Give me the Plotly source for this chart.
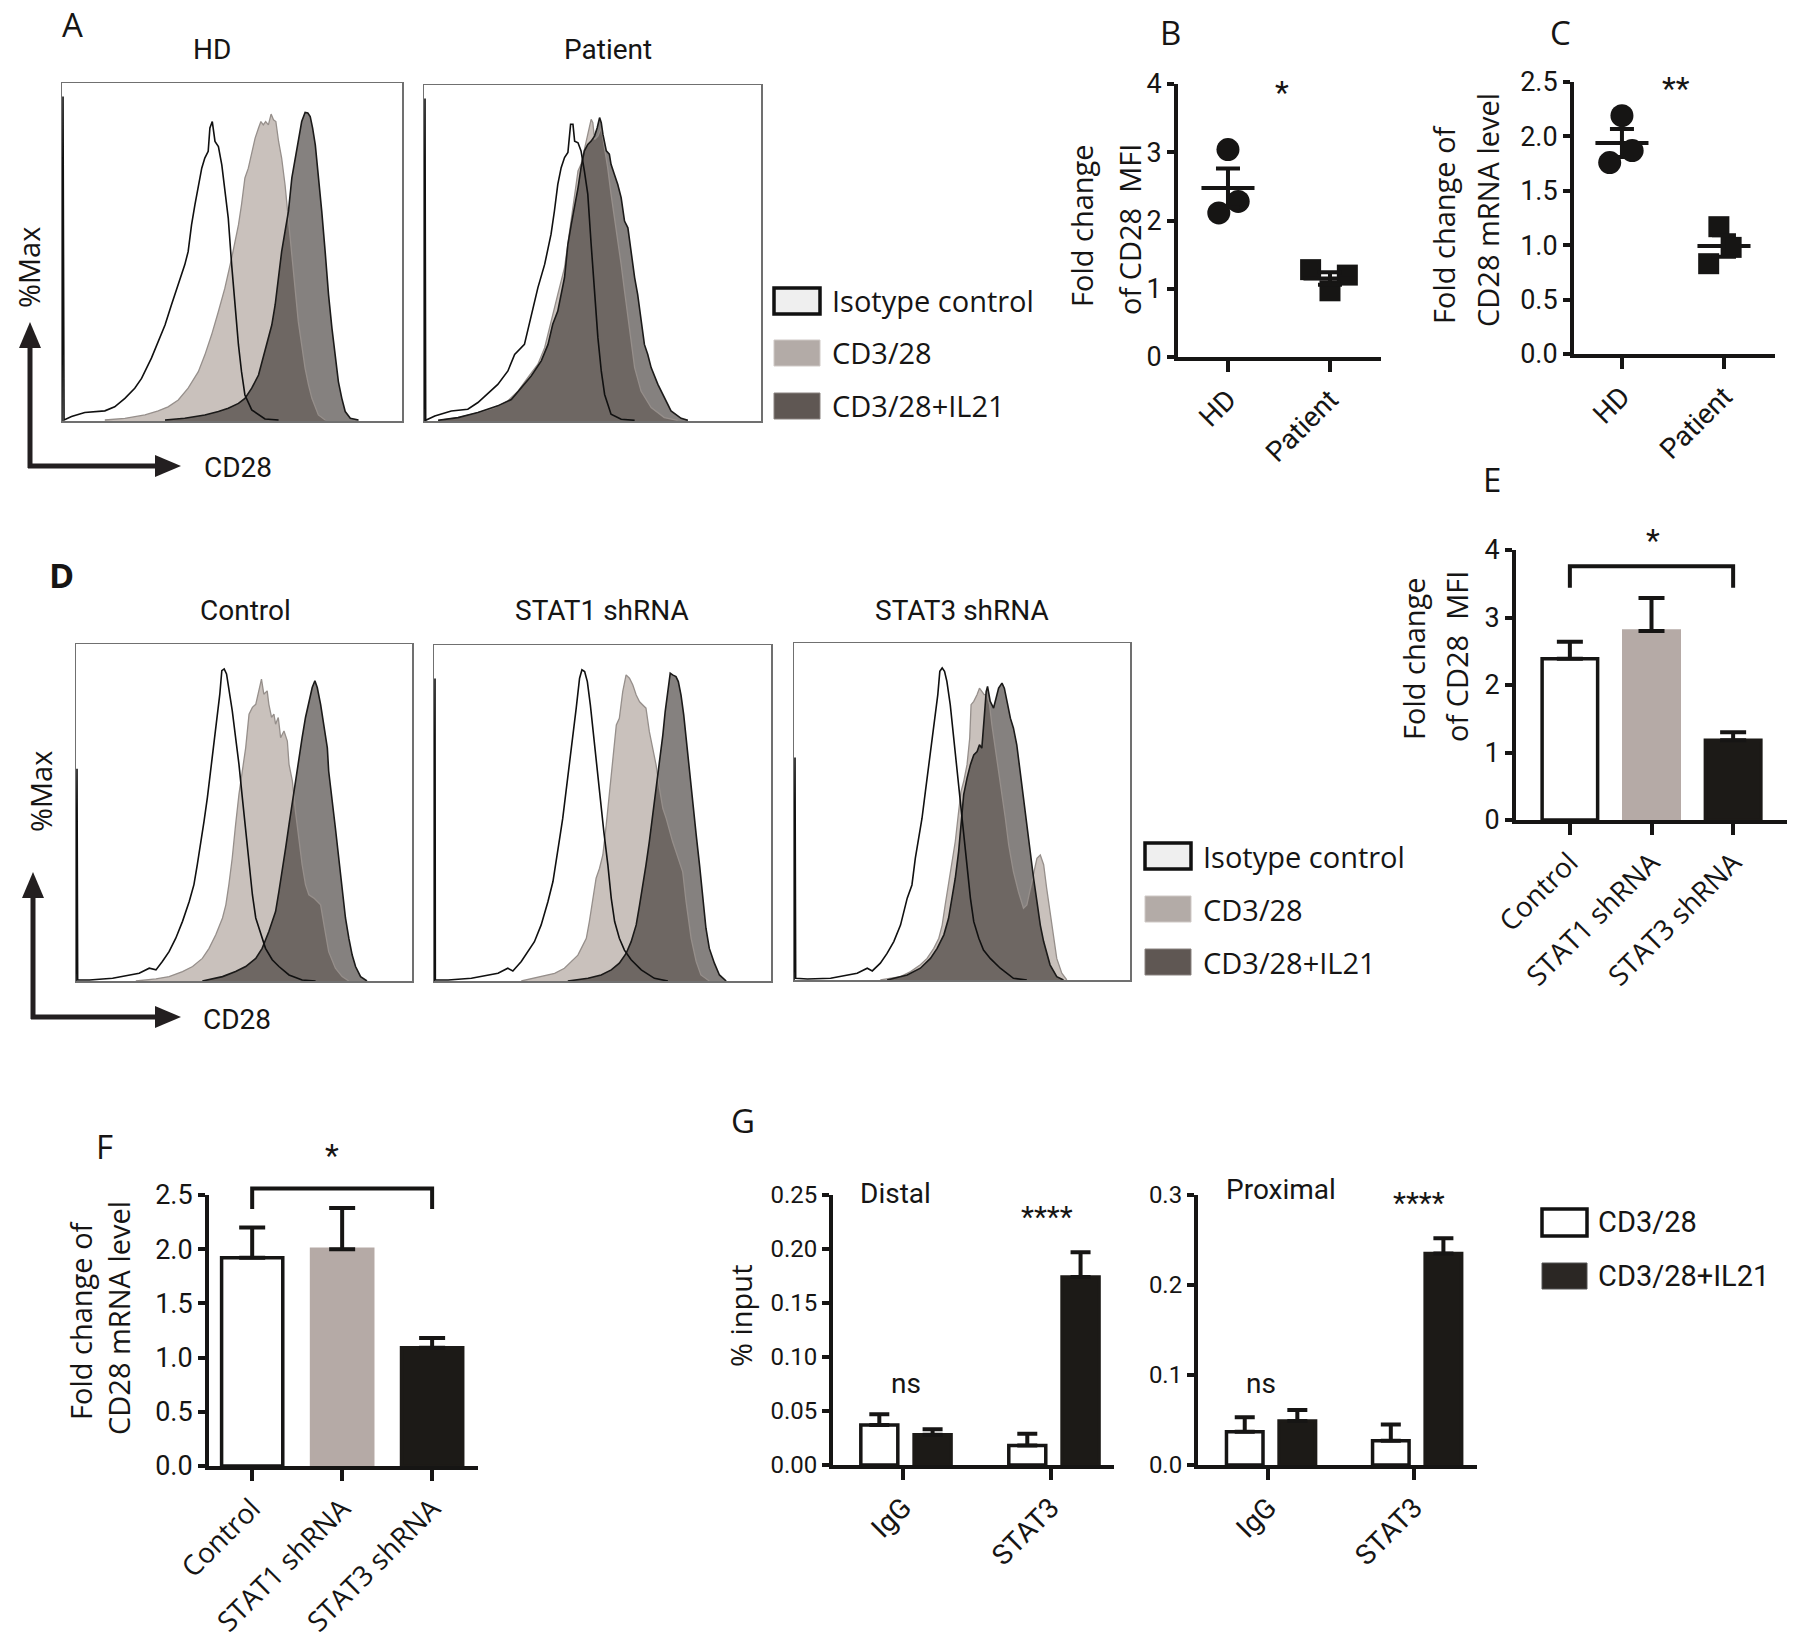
import math
import plotly.graph_objects as go

# ------------------------------------------------------------------ data
# Flow-cytometry overlays: (CD28 position % of frame width, %Max)
HD_ISO = [(0,0),(0.3,96),(0.6,0.3),(2.8,1.3),(6.7,2.5),(12.6,3.0),(15.5,4.2),(18.5,6.7),(21.4,9.7),(23.4,12.6),(26.3,18.6),(28.3,23.5),(30.3,28.4),(32.2,34.4),(34.2,40.3),(36.1,46.2),(37.1,50.1),(38.1,58.0),(39.1,64.0),(40.1,68.9),(41.1,74.8),(42.0,77.8),(43.0,79.8),(43.5,86.7),(44.2,88.6),(45.0,82.7),(46.0,81.2),(47.0,75.8),(47.9,68.9),(48.9,60.0),(49.9,46.2),(50.9,34.4),(51.9,22.5),(52.8,14.6),(53.8,7.7),(55.8,3.3),(59.7,0.6),(63.7,0.3)]
HD_CD328 = [(12.6,0.3),(18.5,0.8),(24.4,1.8),(28.3,3.0),(31.2,4.2),(34.2,6.2),(37.1,9.7),(40.1,14.6),(42.0,19.5),(44.0,25.5),(46.0,32.4),(47.9,39.3),(49.9,48.2),(51.9,58.0),(52.8,64.0),(53.8,71.9),(54.8,74.8),(55.8,78.8),(56.3,80.8),(56.8,83.7),(57.8,86.7),(58.5,88.6),(59.2,87.6),(59.9,88.6),(60.7,87.6),(61.5,90.8),(62.2,89.1),(62.9,88.6),(63.7,82.7),(64.6,77.8),(65.6,69.9),(66.6,60.0),(67.6,48.2),(68.6,38.3),(69.5,29.4),(70.5,22.5),(71.5,15.6),(72.5,10.7),(73.5,6.7),(75.4,1.8),(77.4,0.3)]
HD_IL21 = [(30.3,0.3),(36.1,0.8),(42.0,1.8),(46.0,2.8),(48.9,3.8),(51.9,5.2),(53.8,6.7),(55.8,9.7),(57.8,13.6),(59.7,20.5),(61.7,28.4),(62.7,34.4),(63.7,42.3),(64.6,50.1),(65.6,56.1),(66.6,62.0),(67.6,71.9),(68.6,77.8),(69.5,83.7),(70.5,88.6),(71.5,91.3),(72.3,91.1),(73.0,90.1),(73.7,86.7),(74.5,81.7),(75.4,72.9),(76.4,62.0),(77.4,50.1),(78.4,37.3),(79.4,27.4),(80.4,19.5),(81.3,11.6),(82.3,6.7),(83.3,2.8),(84.8,0.8),(87.2,0.3)]

PT_ISO = [(0,0),(0.3,96),(0.5,0.2),(3.2,1.5),(8.1,3.0),(13.0,3.5),(16.0,5.5),(19.0,8.4),(21.9,10.9),(24.9,14.9),(26.9,19.8),(29.8,22.8),(31.8,30.8),(33.8,39.7),(35.8,46.6),(37.7,55.6),(38.7,62.5),(39.7,70.4),(40.7,75.4),(41.7,78.4),(42.7,79.9),(43.5,88.3),(44.2,88.3),(44.7,83.3),(45.7,82.8),(46.6,80.4),(47.6,74.4),(48.6,67.5),(49.6,52.6),(50.6,37.7),(51.6,24.8),(52.6,14.9),(53.6,7.9),(55.5,2.0),(58.5,0.5),(62.5,0.2)]
PT_CD328 = [(4.2,0.2),(10.1,1.0),(16.0,2.5),(20.9,4.0),(24.9,6.0),(27.9,8.9),(30.8,12.9),(33.8,16.9),(35.8,21.8),(37.7,29.8),(39.7,37.7),(41.7,45.6),(43.7,59.5),(44.7,67.5),(45.7,74.4),(46.6,76.4),(47.6,81.3),(48.6,85.3),(49.6,89.8),(50.1,88.8),(50.6,83.8),(51.6,84.8),(52.6,87.3),(53.6,81.3),(54.5,75.4),(55.5,67.5),(56.5,60.5),(57.5,54.6),(58.5,46.6),(59.5,38.7),(60.5,30.8),(61.5,22.8),(62.5,15.9),(64.4,8.9),(67.4,4.0),(71.3,1.0),(75.3,0.2)]
PT_IL21 = [(4.2,0.2),(10.1,1.0),(16.0,2.5),(21.9,4.5),(25.9,6.4),(28.9,9.9),(31.8,13.4),(34.8,17.9),(36.8,22.8),(38.2,28.8),(39.7,32.7),(41.7,42.7),(42.7,52.6),(43.7,58.5),(44.7,63.5),(45.7,69.4),(46.6,75.4),(47.6,80.4),(48.6,82.3),(49.6,83.3),(50.6,84.8),(51.4,87.3),(52.1,90.3),(52.6,88.8),(53.1,85.3),(54.1,80.4),(55.0,79.4),(55.5,76.4),(56.5,73.4),(57.5,70.4),(58.5,66.5),(59.5,59.5),(60.5,57.5),(61.5,49.6),(62.5,42.7),(63.4,37.7),(64.4,29.8),(65.4,22.8),(66.4,19.8),(67.4,15.9),(69.4,10.9),(71.3,6.9),(73.3,3.0),(76.3,0.8),(78.3,0.2)]

CT_ISO = [(0,0),(0.3,63),(0.5,0.3),(4.0,0.3),(10.9,0.8),(15.8,1.8),(18.8,2.3),(21.8,3.8),(23.8,3.3),(25.7,5.8),(27.7,8.7),(29.7,12.7),(31.7,17.7),(33.7,23.6),(35.1,28.6),(36.1,34.5),(37.1,40.5),(38.1,47.4),(39.1,54.4),(40.1,62.3),(41.1,70.2),(42.1,78.2),(42.8,85.1),(43.4,92.1),(44.1,92.6),(44.8,91.1),(45.5,87.1),(46.5,80.2),(47.5,72.2),(48.5,64.3),(49.5,54.4),(50.5,44.4),(51.5,34.5),(52.5,25.6),(53.5,18.7),(55.0,13.7),(56.4,9.7),(58.4,6.3),(60.4,4.3),(63.4,1.8),(67.3,0.3),(71.3,0)]
CT_CD328 = [(17.8,0),(23.8,0.6),(27.7,1.3),(31.7,2.8),(34.7,4.3),(37.6,6.7),(39.6,9.7),(41.6,13.7),(43.6,18.7),(44.6,22.6),(45.5,28.6),(46.5,36.5),(47.5,46.4),(48.5,55.4),(49.5,62.3),(50.5,69.2),(51.5,79.2),(52.5,81.2),(53.5,82.1),(54.5,87.1),(55.2,89.6),(55.9,85.1),(56.9,86.1),(57.4,82.1),(58.2,78.2),(58.9,79.2),(59.4,76.2),(60.2,78.2),(60.9,72.2),(61.9,74.2),(62.9,71.2),(63.4,64.3),(64.4,59.3),(65.3,50.4),(66.3,42.5),(67.3,34.5),(68.3,28.6),(69.3,25.6),(70.8,24.6),(71.8,23.6),(72.8,22.6),(73.8,16.7),(75.2,8.7),(77.2,3.8),(79.2,1.3),(81.2,0)]
CT_IL21 = [(37.6,0),(43.6,1.3),(47.5,2.8),(50.5,4.3),(53.5,6.7),(55.4,9.7),(57.4,14.7),(59.4,20.6),(60.4,26.6),(61.4,32.5),(62.4,39.5),(63.4,46.4),(64.4,53.4),(65.3,59.3),(66.3,65.3),(67.3,72.2),(68.3,78.2),(69.3,83.1),(70.3,87.1),(71.1,89.1),(71.8,87.1),(72.8,82.1),(73.8,75.2),(74.8,69.2),(75.2,62.3),(76.2,54.4),(77.2,45.4),(78.2,36.5),(79.2,26.6),(80.2,18.7),(81.2,12.7),(82.2,7.7),(83.2,4.3),(84.7,1.3),(86.6,0)]

S1_ISO = [(0,0),(0.3,90),(0.4,0.3),(4.2,0.3),(11.1,0.8),(16.0,1.8),(19.0,2.3),(21.9,3.8),(23.4,3.0),(25.9,5.8),(27.9,8.7),(29.8,11.7),(31.8,16.7),(33.8,23.6),(35.3,29.6),(36.3,35.5),(37.3,42.5),(38.2,48.4),(39.2,56.3),(40.2,64.3),(41.2,72.2),(42.2,81.2),(43.2,90.1),(43.9,92.6),(44.7,92.1),(45.5,89.1),(46.4,82.1),(47.4,72.2),(48.4,64.3),(49.4,54.4),(50.4,44.4),(51.6,34.5),(52.6,24.6),(53.6,17.7),(55.0,12.7),(56.5,9.2),(58.5,6.3),(61.5,3.3),(65.4,0.8),(69.4,0)]
S1_CD328 = [(25.9,0),(31.8,1.3),(35.8,2.3),(38.7,3.8),(40.7,5.8),(42.7,7.7),(43.7,9.7),(45.2,12.7),(46.1,17.7),(47.1,24.6),(48.1,30.6),(49.1,33.5),(50.1,37.5),(51.1,46.4),(52.1,56.3),(53.1,66.3),(54.1,76.2),(55.0,78.2),(56.0,86.1),(57.0,91.1),(58.0,90.1),(59.0,88.1),(60.0,85.1),(61.0,83.1),(62.0,82.1),(62.9,81.2),(63.9,74.2),(64.9,69.2),(65.9,64.3),(66.9,57.3),(67.9,51.4),(68.9,48.4),(69.9,44.4),(70.8,41.5),(71.8,38.5),(72.8,35.5),(73.8,32.5),(74.8,23.6),(76.3,12.7),(77.8,5.8),(79.2,1.8),(81.7,0)]
S1_IL21 = [(39.7,0),(45.7,0.8),(49.6,1.8),(52.6,3.3),(55.0,5.3),(57.0,8.2),(58.5,11.7),(60.0,16.7),(61.0,22.6),(62.0,28.6),(62.9,34.5),(63.9,41.5),(64.9,49.4),(65.9,57.3),(66.9,64.3),(67.9,73.2),(68.6,80.2),(69.4,87.1),(70.1,91.6),(70.8,91.1),(71.8,90.6),(72.5,89.1),(73.3,85.1),(74.1,79.2),(74.8,72.2),(75.8,63.3),(76.8,53.4),(77.8,43.5),(78.8,34.5),(79.7,24.6),(80.7,15.7),(81.7,9.7),(83.2,5.3),(84.7,1.8),(86.7,0)]

S3_ISO = [(0,0),(0.3,66),(0.5,0.5),(4.0,0.3),(10.9,0.5),(15.8,1.5),(18.8,2.0),(21.8,3.5),(23.3,2.7),(25.7,5.0),(27.7,7.9),(29.7,11.4),(31.7,16.3),(33.7,24.3),(35.1,28.2),(36.1,36.1),(37.1,42.1),(38.1,48.0),(39.1,55.9),(40.1,63.9),(41.1,71.8),(42.1,79.7),(42.8,84.7),(43.4,91.6),(44.1,92.6),(44.8,91.6),(45.5,88.6),(46.5,81.7),(47.5,71.8),(48.5,61.9),(49.5,53.0),(50.5,44.1),(51.5,34.2),(52.5,24.3),(53.5,17.3),(55.0,12.4),(56.4,8.9),(58.4,6.4),(61.4,3.5),(65.3,0.5),(69.3,0)]
S3_CD328 = [(25.7,0),(31.7,1.0),(34.7,2.5),(37.6,4.5),(39.6,6.4),(41.6,9.4),(43.1,12.4),(44.1,16.3),(45.0,22.3),(46.0,28.2),(47.0,34.2),(48.0,41.1),(49.0,50.0),(49.7,55.9),(50.5,58.9),(51.5,63.9),(52.3,71.8),(52.7,81.7),(53.5,82.7),(54.5,84.7),(55.2,86.6),(55.9,85.6),(56.6,84.7),(57.4,84.7),(58.2,81.7),(58.9,75.7),(59.9,68.8),(60.9,61.9),(61.9,55.9),(62.9,48.0),(63.9,40.1),(65.3,32.2),(66.8,26.2),(68.3,21.3),(69.3,22.3),(70.3,27.2),(71.3,32.2),(72.3,36.1),(73.3,37.1),(74.3,34.2),(75.2,27.2),(76.2,20.3),(77.2,12.4),(78.2,6.4),(79.7,2.0),(81.2,0)]
S3_IL21 = [(27.7,0),(33.7,1.5),(37.6,3.5),(40.6,6.4),(42.6,9.4),(44.6,13.4),(46.0,18.3),(47.0,24.3),(48.0,30.2),(49.0,38.1),(49.7,46.0),(50.5,55.0),(51.5,59.9),(52.5,63.9),(53.5,66.8),(54.5,67.8),(55.2,69.8),(55.9,68.8),(56.6,77.7),(57.2,85.6),(57.6,87.1),(58.4,82.7),(59.4,80.7),(60.2,83.7),(60.9,86.6),(61.9,88.1),(62.6,86.6),(63.4,82.7),(64.4,77.7),(65.3,74.8),(66.3,69.8),(67.3,61.9),(68.3,54.0),(69.3,45.0),(70.3,38.1),(71.3,30.2),(72.3,23.3),(73.3,16.3),(74.3,11.4),(76.2,4.5),(78.2,1.0),(80.2,0)]

HIST_LEGEND = ["Isotype control", "CD3/28", "CD3/28+IL21"]

# B / C: individual donors
BC_GROUPS = ["HD", "Patient"]
B_HD = [3.04, 2.28, 2.11]
B_PATIENT = [1.28, 1.20, 0.97]
C_HD = [2.19, 1.76, 1.87]
C_PATIENT = [1.17, 0.98, 0.83]
B_TICKS = [0, 1, 2, 3, 4]
C_TICKS = [0.0, 0.5, 1.0, 1.5, 2.0, 2.5]

# E / F: shRNA bars (mean, upper SEM)
SH_CATS = ["Control", "STAT1 shRNA", "STAT3 shRNA"]
E_MEAN = [2.39, 2.80, 1.18]
E_SEM = [0.25, 0.49, 0.12]
F_MEAN = [1.92, 2.00, 1.09]
F_SEM = [0.28, 0.38, 0.09]
E_TICKS = [0, 1, 2, 3, 4]
F_TICKS = [0.0, 0.5, 1.0, 1.5, 2.0, 2.5]

# G: ChIP
G_CATS = ["IgG", "STAT3"]
G_SERIES = ["CD3/28", "CD3/28+IL21"]
DIST_CD328 = [0.037, 0.018]
DIST_CD328_SEM = [0.010, 0.011]
DIST_IL21 = [0.028, 0.174]
DIST_IL21_SEM = [0.005, 0.023]
PROX_CD328 = [0.037, 0.027]
PROX_CD328_SEM = [0.016, 0.018]
PROX_IL21 = [0.049, 0.235]
PROX_IL21_SEM = [0.012, 0.017]
DIST_TICKS = [0.00, 0.05, 0.10, 0.15, 0.20, 0.25]
PROX_TICKS = [0.0, 0.1, 0.2, 0.3]

# ------------------------------------------------------------------ style
W, H = 1800, 1643
SANS = "Open Sans, Noto Sans, sans-serif"
COND = "Roboto, Liberation Sans, sans-serif"
INK = "#161514"
LT_FILL = "#c9c1bc"
LT_LINE = "#968f8b"
DK_FILL = "rgba(45,38,35,0.58)"
DK_LINE = "#1b1a19"
GRAY_BAR = "#b5aaa6"
BLACK_BAR = "#1c1a17"

fig = go.Figure()


def fx(v):
    return v / W


def fy(v):
    return 1 - v / H


_n = [0]


def new_axes(xpx, ypx, xcfg, ycfg):
    _n[0] += 1
    n = _n[0]
    sfx = "" if n == 1 else str(n)
    xr, yr = "x" + sfx, "y" + sfx
    xc = dict(xcfg, domain=[fx(xpx[0]), fx(xpx[1])], anchor=yr, automargin=False)
    yc = dict(ycfg, domain=[fy(ypx[1]), fy(ypx[0])], anchor=xr, automargin=False)
    fig.update_layout({"xaxis" + sfx: xc, "yaxis" + sfx: yc})
    return xr, yr


def ann(text, x, y, size=28, family=SANS, xanchor="center", yanchor="middle", angle=0):
    fig.add_annotation(text=text, x=fx(x), y=fy(y), xref="paper", yref="paper",
                       showarrow=False, xanchor=xanchor, yanchor=yanchor, textangle=angle,
                       font=dict(size=size, family=family, color=INK))


HIST_AX = dict(range=[0, 100], showline=True, mirror=True, linecolor="#707070", linewidth=1.5,
               ticks="", showticklabels=False, showgrid=False, zeroline=False, fixedrange=True)


def hist(xpx, ypx, iso, cd328, il21):
    xr, yr = new_axes(xpx, ypx, HIST_AX, HIST_AX)
    X = lambda c: [p[0] for p in c]
    Y = lambda c: [p[1] for p in c]
    common = dict(mode="lines", xaxis=xr, yaxis=yr, hoverinfo="skip", showlegend=False)
    fig.add_trace(go.Scatter(x=X(cd328), y=Y(cd328), fill="tozeroy", fillcolor=LT_FILL,
                             line=dict(width=0, color=LT_FILL), **common))
    fig.add_trace(go.Scatter(x=X(il21), y=Y(il21), fill="tozeroy", fillcolor=DK_FILL,
                             line=dict(width=0, color=DK_FILL), **common))
    fig.add_trace(go.Scatter(x=X(cd328), y=Y(cd328), line=dict(width=1.3, color=LT_LINE), **common))
    fig.add_trace(go.Scatter(x=X(il21), y=Y(il21), line=dict(width=1.6, color=DK_LINE), **common))
    fig.add_trace(go.Scatter(x=X(iso), y=Y(iso), line=dict(width=1.6, color="#101010"), **common))


# ---- A
hist((62, 402), (83, 421), HD_ISO, HD_CD328, HD_IL21)
hist((424, 761), (85, 421), PT_ISO, PT_CD328, PT_IL21)
# ---- D
hist((76, 412), (644, 981), CT_ISO, CT_CD328, CT_IL21)
hist((434, 771), (645, 981), S1_ISO, S1_CD328, S1_IL21)
hist((794, 1130), (643, 980), S3_ISO, S3_CD328, S3_IL21)


# ---- axis styles for the stat panels
def xstyle(font=COND, size=28):
    return dict(showline=True, linewidth=4, linecolor=INK, ticks="outside", ticklen=11, tickwidth=4,
                tickcolor=INK, showgrid=False, zeroline=False, tickangle=-45, fixedrange=True,
                tickfont=dict(family=font, size=size, color=INK))


def ystyle(ticks, fmt, size=27):
    return dict(showline=True, linewidth=4, linecolor=INK, ticks="outside", ticklen=7, tickwidth=4,
                tickcolor=INK, showgrid=False, zeroline=False, fixedrange=True, tickvals=ticks,
                ticktext=[fmt.format(t) for t in ticks], tickfont=dict(family=COND, size=size, color=INK))


def sem(v):
    m = sum(v) / len(v)
    sd = math.sqrt(sum((a - m) ** 2 for a in v) / (len(v) - 1))
    return m, sd / math.sqrt(len(v))


def dot_panel(xpx, ypx, xrange, ticks, fmt, groups, jit):
    xr, yr = new_axes(xpx, ypx,
                      dict(xstyle(), range=xrange, tickvals=list(range(len(BC_GROUPS))), ticktext=BC_GROUPS),
                      dict(ystyle(ticks, fmt), range=[ticks[0], ticks[-1]]))
    for gi, (vals, sym) in enumerate(groups):
        xs = [gi + j for j in jit[gi]]
        fig.add_trace(go.Scatter(x=xs, y=vals, mode="markers", xaxis=xr, yaxis=yr, showlegend=False,
                                 marker=dict(symbol=sym, size=23 if sym == "circle" else 21, color=INK,
                                             line=dict(width=0)), cliponaxis=False))
        m, s = sem(vals)
        fig.add_trace(go.Scatter(x=[gi - 0.26, gi + 0.26], y=[m, m], mode="lines", xaxis=xr, yaxis=yr,
                                 showlegend=False, line=dict(color=INK, width=4)))
        fig.add_trace(go.Scatter(x=[gi], y=[m], mode="markers", xaxis=xr, yaxis=yr, showlegend=False,
                                 marker=dict(size=2, color="rgba(0,0,0,0)"),
                                 error_y=dict(type="data", array=[s], width=12, thickness=4, color=INK)))
    return xr, yr


# ---- B
dot_panel((1178, 1381), (84, 357), [-0.49, 1.5], B_TICKS, "{:g}",
          [(B_HD, "circle"), (B_PATIENT, "square")], [[0.0, 0.10, -0.09], [-0.19, 0.17, 0.0]])
# ---- C
dot_panel((1574, 1775), (82, 354), [-0.47, 1.5], C_TICKS, "{:.1f}",
          [(C_HD, "circle"), (C_PATIENT, "square")], [[0.0, -0.12, 0.10], [-0.05, 0.07, -0.15]])

shapes = []


def bar_panel(xpx, ypx, xrange, ticks, fmt, means, sems, bracket_lo, bracket_hi):
    xr, yr = new_axes(xpx, ypx,
                      dict(xstyle(SANS, 28), range=xrange, tickvals=list(range(len(SH_CATS))), ticktext=SH_CATS),
                      dict(ystyle(ticks, fmt), range=[ticks[0], ticks[-1]]))
    fig.add_trace(go.Bar(x=list(range(len(SH_CATS))), y=means, width=0.68, xaxis=xr, yaxis=yr, showlegend=False,
                         marker=dict(color=["#ffffff", GRAY_BAR, BLACK_BAR],
                                     line=dict(color=[INK, GRAY_BAR, BLACK_BAR], width=3.5)),
                         error_y=dict(type="data", symmetric=False, array=sems, arrayminus=[0] * len(sems),
                                      width=13, thickness=4, color=INK)))
    # significance bracket (y converted to page position so it may rise above the axis top)
    v2py = lambda v: ypx[1] - (v - ticks[0]) / (ticks[-1] - ticks[0]) * (ypx[1] - ypx[0])
    last = len(SH_CATS) - 1
    lo, hi = fy(v2py(bracket_lo)), fy(v2py(bracket_hi))
    shapes.append(dict(type="path", xref=xr, yref="paper",
                       path=f"M 0,{lo} L 0,{hi} L {last},{hi} L {last},{lo}",
                       line=dict(color=INK, width=4)))
    return xr, yr


# ---- E
bar_panel((1516, 1787), (550, 820), [-0.66, 2.66], E_TICKS, "{:g}", E_MEAN, E_SEM, 3.44, 3.76)
# ---- F
bar_panel((209, 478), (1195, 1466), [-0.48, 2.51], F_TICKS, "{:.1f}", F_MEAN, F_SEM, 2.37, 2.56)


def chip_panel(xpx, ypx, xrange, ticks, fmt, a, a_err, b, b_err):
    xr, yr = new_axes(xpx, ypx,
                      dict(xstyle(COND, 28), range=xrange, tickvals=list(range(len(G_CATS))), ticktext=G_CATS),
                      dict(ystyle(ticks, fmt, 24), range=[ticks[0], ticks[-1]]))
    idx = list(range(len(G_CATS)))
    fig.add_trace(go.Bar(x=[i - 0.16 for i in idx], y=a, width=0.25, xaxis=xr, yaxis=yr, showlegend=False,
                         marker=dict(color="#ffffff", line=dict(color=INK, width=3.5)),
                         error_y=dict(type="data", symmetric=False, array=a_err, arrayminus=[0] * len(a),
                                      width=10, thickness=4, color=INK)))
    fig.add_trace(go.Bar(x=[i + 0.20 for i in idx], y=b, width=0.25, xaxis=xr, yaxis=yr, showlegend=False,
                         marker=dict(color=BLACK_BAR, line=dict(color=BLACK_BAR, width=3.5)),
                         error_y=dict(type="data", symmetric=False, array=b_err, arrayminus=[0] * len(b),
                                      width=10, thickness=4, color=INK)))


# ---- G
chip_panel((833, 1114), (1195, 1465), [-0.473, 1.426], DIST_TICKS, "{:.2f}",
           DIST_CD328, DIST_CD328_SEM, DIST_IL21, DIST_IL21_SEM)
chip_panel((1198, 1477), (1195, 1465), [-0.48, 1.43], PROX_TICKS, "{:.1f}",
           PROX_CD328, PROX_CD328_SEM, PROX_IL21, PROX_IL21_SEM)


# ------------------------------------------------------------------ decorations
def pline(x0, y0, x1, y1, w=5, c="#231f20"):
    shapes.append(dict(type="line", xref="paper", yref="paper", x0=fx(x0), y0=fy(y0), x1=fx(x1), y1=fy(y1),
                       line=dict(color=c, width=w)))


def tri(pts, c="#231f20"):
    p = "M " + " L ".join(f"{fx(a)},{fy(b)}" for a, b in pts) + " Z"
    shapes.append(dict(type="path", xref="paper", yref="paper", path=p, fillcolor=c, line=dict(width=0)))


def rect(x0, y0, x1, y1, fill, lc, lw):
    shapes.append(dict(type="rect", xref="paper", yref="paper", x0=fx(x0), y0=fy(y1), x1=fx(x1), y1=fy(y0),
                       fillcolor=fill, line=dict(color=lc, width=lw)))


def axes_arrow(x, y, top, right):
    pline(x, y + 2, x, top + 22)
    tri([(x, top), (x - 11, top + 26), (x + 11, top + 26)])
    pline(x - 2, y, right - 22, y)
    tri([(right, y), (right - 26, y - 11), (right - 26, y + 11)])


axes_arrow(30, 466, 322, 181)
axes_arrow(33, 1017, 872, 181)


def hist_legend(x, rows):
    rect(x, rows[0] - 13, x + 46, rows[0] + 13, "#efefef", "#111111", 3.5)
    rect(x, rows[1] - 13, x + 46, rows[1] + 13, "#b3aba7", "#cfc9c6", 1)
    rect(x, rows[2] - 13, x + 46, rows[2] + 13, "#5f5753", "#8a8380", 1)
    for t, r in zip(HIST_LEGEND, rows):
        ann(t, x + 56, r, size=29, xanchor="left")


hist_legend(774, [301, 353, 406])
hist_legend(1145, [856, 909, 962])

# G legend
rect(1542, 1209, 1587, 1236, "#ffffff", "#111111", 3.5)
rect(1542, 1263, 1587, 1289, "#2b2724", "#555", 1)
ann(G_SERIES[0], 1596, 1222, size=29, family=COND, xanchor="left")
ann(G_SERIES[1], 1596, 1276, size=29, family=COND, xanchor="left")

fig.update_layout(shapes=shapes)

# panel letters
ann("A", 72, 25, size=33)
ann("B", 1170, 33, size=33)
ann("C", 1560, 33, size=33)
ann("<b>D</b>", 61, 575, size=34)
ann("E", 1492, 479, size=33)
ann("F", 104, 1146, size=33)
ann("G", 743, 1120, size=33)

# titles above histograms
ann("HD", 212, 50, size=28, family=COND)
ann("Patient", 608, 50, size=28, family=COND)
ann("Control", 246, 610, size=28, family=COND)
ann("STAT1 shRNA", 602, 610, size=28, family=COND)
ann("STAT3 shRNA", 962, 610, size=28, family=COND)

# %Max / CD28
ann("%Max", 29, 268, size=29, angle=-90)
ann("%Max", 40, 792, size=29, angle=-90)
ann("CD28", 238, 468, size=28, family=COND)
ann("CD28", 237, 1019, size=28, family=COND)

# y titles
ann("Fold change", 1082, 226, size=29, angle=-90)
ann("of CD28\u00a0 MFI", 1129, 230, size=29, angle=-90)
ann("Fold change of", 1443, 224, size=29, angle=-90)
ann("CD28 mRNA level", 1487, 210, size=29, angle=-90)
ann("Fold change", 1413, 659, size=29, angle=-90)
ann("of CD28\u00a0 MFI", 1457, 657, size=29, angle=-90)
ann("Fold change of", 80, 1320, size=29, angle=-90)
ann("CD28 mRNA level", 118, 1318, size=29, angle=-90)
ann("% input", 740, 1316, size=29, angle=-90)

# significance marks
ann("*", 1282, 92, size=32, family=COND)
ann("**", 1676, 88, size=32, family=COND)
ann("*", 1653, 540, size=32, family=COND)
ann("*", 332, 1155, size=32, family=COND)
ann("Distal", 895, 1193, size=28, family=COND)
ann("Proximal", 1281, 1189, size=28, family=COND)
ann("ns", 906, 1383, size=28, family=COND)
ann("ns", 1261, 1383, size=28, family=COND)
ann("****", 1047, 1216, size=30, family=COND)
ann("****", 1419, 1202, size=30, family=COND)

fig.update_layout(template="none", width=W, height=H, autosize=False, margin=dict(l=0, r=0, t=0, b=0, pad=0),
                  paper_bgcolor="white", plot_bgcolor="rgba(0,0,0,0)", showlegend=False,
                  barmode="overlay", font=dict(family=SANS, color=INK))

fig.write_html("out.html", config={"displayModeBar": False, "staticPlot": True},
               post_script="document.body.style.margin='0px';")
